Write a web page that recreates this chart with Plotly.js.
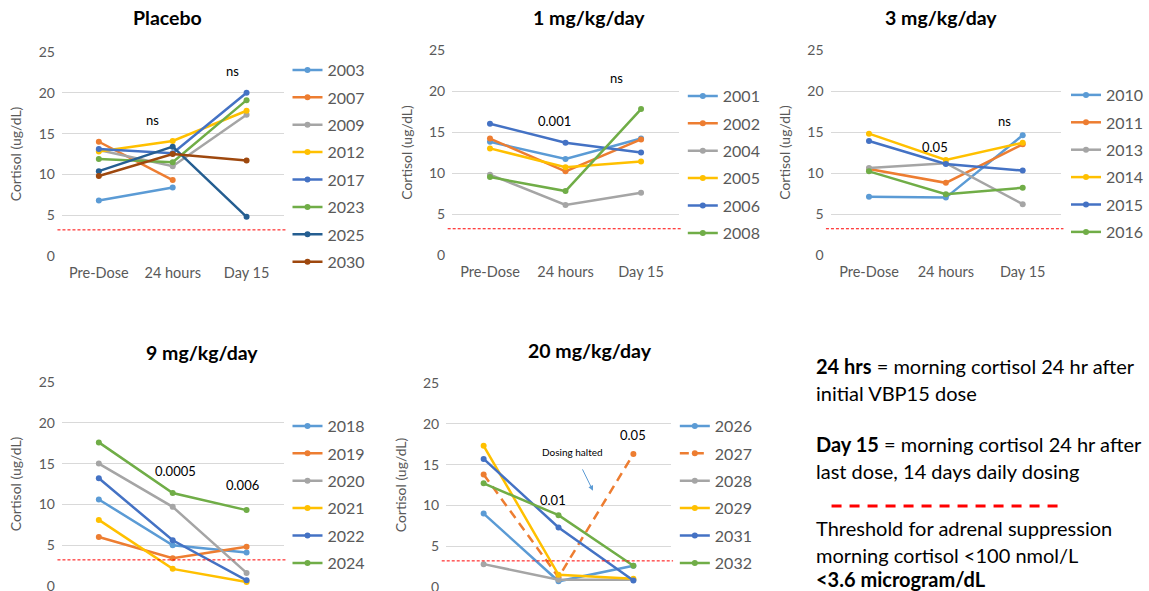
<!DOCTYPE html>
<html><head><meta charset="utf-8">
<script src="https://cdn.plot.ly/plotly-3.0.1.min.js"></script>
<style>html,body{margin:0;padding:0;background:#fff}#chart{width:1149px;height:591px}</style>
</head><body><div id="chart"></div>
<script>
// ---------- DATA ----------
const timepoints = ['Pre-Dose', '24 hours', 'Day 15'];
const yTickVals = [0, 5, 10, 15, 20, 25];
const thresholdValue = 3.2;

const panelTitles = ['Placebo', '1 mg/kg/day', '3 mg/kg/day', '9 mg/kg/day', '20 mg/kg/day'];

const placeboIds = ['2003', '2007', '2009', '2012', '2017', '2023', '2025', '2030'];
const placeboValues = [
  [6.8, 8.4, null],
  [14.0, 9.3, null],
  [13.0, 11.0, 17.3],
  [12.8, 14.1, 17.8],
  [13.1, 12.6, 20.0],
  [11.9, 11.5, 19.1],
  [10.4, 13.4, 4.8],
  [9.8, 12.5, 11.7]
];

const dose1Ids = ['2001', '2002', '2004', '2005', '2006', '2008'];
const dose1Values = [
  [13.8, 11.7, 14.2],
  [14.2, 10.2, 14.1],
  [9.8, 6.1, 7.6],
  [13.0, 10.7, 11.4],
  [16.0, 13.7, 12.5],
  [9.5, 7.8, 17.8]
];

const dose3Ids = ['2010', '2011', '2013', '2014', '2015', '2016'];
const dose3Values = [
  [7.1, 7.0, 14.6],
  [10.5, 8.8, 13.5],
  [10.6, 11.2, 6.2],
  [14.8, 11.6, 13.7],
  [13.9, 11.1, 10.3],
  [10.2, 7.4, 8.2]
];

const dose9Ids = ['2018', '2019', '2020', '2021', '2022', '2024'];
const dose9Values = [
  [10.6, 5.0, 4.1],
  [6.0, 3.4, 4.8],
  [15.0, 9.7, 1.6],
  [8.1, 2.1, 0.5],
  [13.2, 5.6, 0.7],
  [17.6, 11.4, 9.3]
];

const dose20Ids = ['2026', '2027', '2028', '2029', '2031', '2032'];
const dose20Values = [
  [9.0, 0.7, 2.6],
  [13.8, 1.2, 16.3],
  [2.8, 0.9, 0.9],
  [17.3, 1.5, 1.0],
  [15.7, 7.3, 0.8],
  [12.7, 8.8, 2.6]
];

const pLabels = [
  [['ns', 0.72, 16.7], ['ns', 1.81, 22.7]],
  [['0.001', 0.85, 16.4], ['ns', 1.67, 21.6]],
  [['0.05', 0.86, 13.2], ['ns', 1.76, 16.4]],
  [['0.0005', 1.04, 14.1], ['0.006', 1.95, 12.4]],
  [['0.01', 0.93, 10.7], ['0.05', 1.99, 18.6]]
];

const noteLines = [
  '<b>24 hrs</b> = morning cortisol 24 hr after',
  'initial VBP15 dose',
  '<b>Day 15</b> = morning cortisol 24 hr after',
  'last dose, 14 days daily dosing',
  'Threshold for adrenal suppression',
  'morning cortisol <100 nmol/L',
  '<b><3.6 microgram/dL</b>'
];

// ---------- STYLE / LAYOUT ----------
const W = 1149, H = 591;
const FONT = 'Lato, "Open Sans", sans-serif';
const GREY = '#595959';
const colors8 = ['#5B9BD5', '#ED7D31', '#A5A5A5', '#FFC000', '#4472C4', '#70AD47', '#255E91', '#9E480E'];

const panels = [
  {ids: placeboIds, vals: placeboValues, x: [62, 284], y0: 256, y25: 52, tx: 168, ty: 18, lx: 288, ly: 53, showX: true},
  {ids: dose1Ids, vals: dose1Values, x: [453, 680], y0: 255, y25: 50, tx: 590, ty: 18, lx: 684, ly: 79, showX: true},
  {ids: dose3Ids, vals: dose3Values, x: [832, 1063], y0: 255, y25: 50, tx: 943, ty: 18, lx: 1068, ly: 78, showX: true},
  {ids: dose9Ids, vals: dose9Values, x: [62, 284], y0: 586, y25: 382, tx: 202, ty: 352, lx: 288, ly: 409, showX: false},
  {ids: dose20Ids, vals: dose20Values, x: [447, 672], y0: 587, y25: 383, tx: 591, ty: 350, lx: 676, ly: 409, showX: false}
];

const traces = [];
const layout = {
  width: W, height: H,
  margin: {l: 0, r: 0, t: 0, b: 0},
  paper_bgcolor: '#fff', plot_bgcolor: '#fff',
  font: {family: FONT, color: GREY},
  showlegend: true,
  annotations: [], shapes: []
};

panels.forEach((p, i) => {
  const n = i + 1;
  const xa = 'xaxis' + (n === 1 ? '' : n), ya = 'yaxis' + (n === 1 ? '' : n);
  const xr = 'x' + (n === 1 ? '' : n), yr = 'y' + (n === 1 ? '' : n);
  const lg = 'legend' + (n === 1 ? '' : n);
  layout[xa] = {
    domain: [p.x[0] / W, p.x[1] / W], anchor: yr,
    type: 'category', categoryarray: timepoints, range: [-0.5, 2.5],
    showgrid: false, zeroline: false, showline: false, ticks: '',
    showticklabels: p.showX, ticklabelstandoff: 6,
    tickfont: {size: 14.5, color: GREY, family: FONT}, fixedrange: true
  };
  layout[ya] = {
    domain: [1 - p.y0 / H, 1 - p.y25 / H], anchor: xr,
    range: [0, 25], tickvals: yTickVals,
    showgrid: true, gridcolor: '#D9D9D9', gridwidth: 1,
    zeroline: false, showline: false, ticks: '', ticklabelstandoff: 6,
    ticklabeloverflow: 'allow',
    tickfont: {size: 14, color: GREY, family: FONT},
    title: {text: 'Cortisol (ug/dL)', font: {size: 14, color: GREY, family: FONT}, standoff: 13},
    fixedrange: true
  };
  layout[lg] = {
    x: p.lx / W, y: 1 - p.ly / H, xanchor: 'left', yanchor: 'top',
    font: {size: 16, color: GREY, family: FONT}, bgcolor: 'rgba(0,0,0,0)',
    tracegroupgap: 3.6, traceorder: 'grouped', itemclick: false
  };
  p.ids.forEach((id, k) => {
    const dashed = (n === 5 && id === '2027');
    traces.push({
      type: 'scatter', mode: 'lines+markers', name: id,
      x: timepoints, y: p.vals[k], xaxis: xr, yaxis: yr,
      legend: lg, legendgroup: 'g' + n + '_' + k,
      line: {color: colors8[k], width: 2.5, dash: dashed ? '9px,6px' : 'solid'},
      marker: {color: colors8[k], size: 6},
      connectgaps: false, hoverinfo: 'name+y'
    });
  });
  // threshold line
  layout.shapes.push({
    type: 'line', xref: xr + ' domain', yref: yr, x0: -0.02, x1: 1.01,
    y0: thresholdValue, y1: thresholdValue,
    line: {color: '#FF0000', width: 1, dash: '3px,2px'}
  });
  // panel title
  layout.annotations.push({
    xref: 'paper', yref: 'paper', x: p.tx / W, y: 1 - p.ty / H,
    xanchor: 'center', yanchor: 'middle', showarrow: false,
    text: '<b>' + panelTitles[i] + '</b>',
    font: {size: 19.5, color: '#000', family: FONT}
  });
  // p-value labels
  pLabels[i].forEach(l => {
    layout.annotations.push({
      xref: xr, yref: yr, x: l[1], y: l[2], showarrow: false,
      text: l[0], font: {size: 13, color: '#000', family: FONT}
    });
  });
});

// "Dosing halted" note with arrow
layout.annotations.push({
  xref: 'x5', yref: 'y5', x: 1.18, y: 16.6, showarrow: false,
  text: 'Dosing halted', font: {size: 10, color: '#000', family: FONT}
});
layout.annotations.push({
  xref: 'x5', yref: 'y5', axref: 'x5', ayref: 'y5',
  x: 1.46, y: 11.8, ax: 1.31, ay: 14.6, text: '', showarrow: true,
  arrowhead: 2, arrowsize: 1, arrowwidth: 1, arrowcolor: '#5B9BD5'
});

// right-hand notes
const noteY = [366, 393, 444, 471, 528, 555, 579];
noteLines.forEach((t, k) => {
  layout.annotations.push({
    xref: 'paper', yref: 'paper', x: 815 / W, y: 1 - noteY[k] / H,
    xanchor: 'left', yanchor: 'middle', showarrow: false, align: 'left',
    text: t, font: {size: 20, color: '#000', family: FONT}
  });
});
layout.shapes.push({
  type: 'line', xref: 'paper', yref: 'paper',
  x0: 833 / W, x1: 1063 / W, y0: 1 - 506 / H, y1: 1 - 506 / H,
  line: {color: '#FF0000', width: 3, dash: '10px,8px'}
});

Plotly.newPlot('chart', traces, layout, {staticPlot: true, displayModeBar: false});
</script>
</body></html>
